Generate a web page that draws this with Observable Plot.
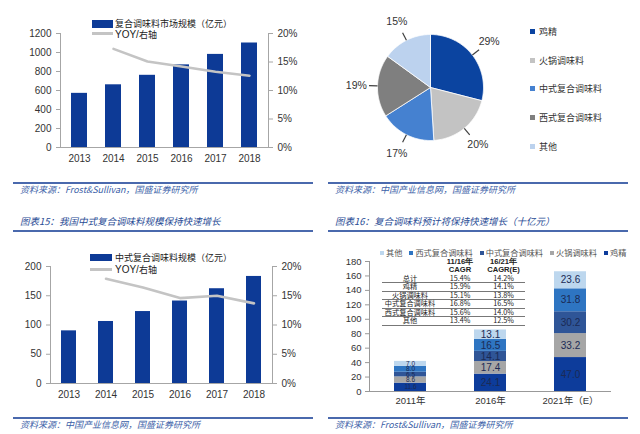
<!DOCTYPE html>
<html><head><meta charset="utf-8">
<script src="https://cdn.jsdelivr.net/npm/d3@7"></script>
<script src="https://cdn.jsdelivr.net/npm/@observablehq/plot@0.6"></script>
<style>
body{margin:0;width:640px;height:434px;position:relative;background:#fff;overflow:hidden;font-family:"Noto Sans CJK SC",sans-serif;}
.abs{position:absolute;}
.rule{position:absolute;height:2px;background:#4a69ad;}
.src{position:absolute;font-size:9px;line-height:10px;color:#3c5fa8;font-style:italic;white-space:nowrap;}
.ttl{position:absolute;font-size:9.5px;line-height:11px;color:#2a4c95;font-style:italic;white-space:nowrap;}
.lg{position:absolute;font-size:9px;line-height:9px;color:#222;white-space:nowrap;}
.sw{position:absolute;}
.plg{position:absolute;font-size:9px;line-height:10px;color:#333;white-space:nowrap;}
.plg i{display:inline-block;width:5px;height:5px;margin-right:4px;vertical-align:1px;}
.slg{position:absolute;left:380px;top:247px;display:flex;gap:7px;font-size:8.2px;line-height:10px;color:#555;white-space:nowrap;}
.slg i{display:inline-block;width:4px;height:4px;margin-right:2px;vertical-align:1px;}
.tbl{position:absolute;left:382px;top:258px;width:143px;font-family:"Noto Sans CJK SC",sans-serif;font-size:7.2px;color:#222;}
.tr{display:flex;height:8.3px;line-height:8px;}
.tr.d{border-bottom:0.8px solid #777;height:7.5px;line-height:7.5px;}
.tr span{display:block;text-align:center;}
.tr span:nth-child(1){width:56px;}
.tr span:nth-child(2){width:44px;}
.tr span:nth-child(3){width:43px;}
.tr.h{font-weight:bold;font-family:"Liberation Sans",sans-serif;font-size:7.6px;}
</style></head>
<body>
<script>
// ---------- data ----------
const years = ["2013","2014","2015","2016","2017","2018"];
const marketSize = [570, 660, 760, 870, 980, 1100];
const marketYoy = [null, 17.3, 15.1, 14.2, 13.3, 12.6];
const chineseSize = [90, 106, 123, 141, 162, 183];
const chineseYoy = [null, 17.9, 16.4, 14.6, 15.0, 13.7];

const pieCategories = ["鸡精","火锅调味料","中式复合调味料","西式复合调味料","其他"];
const pieShares = [29, 20, 17, 19, 15];
const pieColors = ["#0b44a0","#c3c3c3","#4581d0","#7f7f7f","#bcd2ee"];

const stackYears = ["2011年","2016年","2021年（E）"];
const stackCategories = ["鸡精","火锅调味料","中式复合调味料","西式复合调味料","其他"];
const stackColors = ["#0d3c9b","#a6a6a6","#2f5597","#2e75c2","#bdd7ee"];
const jijing = [11.6, 24.1, 47.0];
const huoguo = [8.6, 17.4, 33.2];
const zhongshi = [6.5, 14.1, 30.2];
const xishi = [8.0, 16.5, 31.8];
const qita = [7.0, 13.1, 23.6];
const legendOrder = ["其他","西式复合调味料","中式复合调味料","火锅调味料","鸡精"];

const cagrRows = ["总计","鸡精","火锅调味料","中式复合调味料","西式复合调味料","其他"];
const cagr1116 = ["15.4%","15.9%","15.1%","16.8%","15.6%","13.4%"];
const cagr1621 = ["14.2%","14.1%","13.8%","16.5%","14.0%","12.5%"];

const texts = {
  src1: "资料来源：Frost&Sullivan，国盛证券研究所",
  src2: "资料来源：中国产业信息网，国盛证券研究所",
  title15: "图表15：我国中式复合调味料规模保持快速增长",
  title16: "图表16：复合调味料预计将保持快速增长（十亿元）",
  leg1: "复合调味料市场规模（亿元）",
  leg3: "中式复合调味料规模（亿元）"
};

// ---------- helpers ----------
function place(node, left, top) {
  const d = document.createElement("div");
  d.className = "abs"; d.style.left = left + "px"; d.style.top = top + "px";
  d.appendChild(node); document.body.appendChild(d); return d;
}
function html(s) { document.body.insertAdjacentHTML("beforeend", s); }

const axisFont = {fontFamily:"'Liberation Sans', sans-serif", fontSize:"10px", color:"#333", background:"transparent", overflow:"visible"};

function dualChart(sizes, yoy, ymax, yStep, pctMax, opts) {
  const data = years.map((y,i)=>({year:y, size:sizes[i], yoy:yoy[i]}));
  const k = ymax / pctMax;
  const ticks = d3.range(0, ymax + 1, yStep);
  const pticks = d3.range(0, pctMax + 1, 5).map(p => p * k);
  return Plot.plot({
    ...opts,
    style: axisFont,
    x: {type:"band", domain: years, paddingInner: opts.pad, paddingOuter: opts.pad/2, axis:null},
    y: {domain:[0, ymax], axis:null},
    marks: [
      Plot.barY(data, {x:"year", y:"size", fill:"#0d3a96"}),
      Plot.line(data.filter(d=>d.yoy!=null), {x:"year", y: d=>d.yoy*k, stroke:"#c4c4c4", strokeWidth:2.6}),
      Plot.frame({anchor:"left", stroke:"#a6a6a6"}),
      Plot.frame({anchor:"right", stroke:"#a6a6a6"}),
      Plot.frame({anchor:"bottom", stroke:"#a6a6a6"}),
      Plot.axisY(ticks, {anchor:"left", tickSize:4, tickPadding:5, stroke:"#a6a6a6", fill:"#333", tickFormat:d=>String(d), label:null}),
      Plot.axisY(pticks, {anchor:"right", tickSize:4, tickPadding:5, stroke:"#a6a6a6", fill:"#333", tickFormat: d=>`${Math.round(d/k)}%`, label:null}),
      Plot.axisX({tickSize:0, tickPadding:7, fill:"#333", label:null})
    ]
  });
}

// ---------- chart 1 ----------
place(dualChart(marketSize, marketYoy, 1200, 200, 20,
  {width:320, height:167, marginLeft:60, marginRight:52, marginTop:33, marginBottom:20, pad:0.54}), 0, 0);
html(`<div class="sw" style="left:92px;top:20px;width:21px;height:8px;background:#0d3a96"></div>
<div class="lg" style="left:115px;top:19px">${texts.leg1}</div>
<div class="sw" style="left:92px;top:32px;width:21px;height:2.5px;background:#c4c4c4"></div>
<div class="lg" style="left:115px;top:29.5px;line-height:9px;font-family:'Liberation Sans','Noto Sans CJK SC';font-size:10px">YOY/<span style="font-family:'Noto Sans CJK SC';font-size:9px">右轴</span></div>
<div class="rule" style="left:13px;top:182px;width:300px"></div>
<div class="src" style="left:20px;top:185px">${texts.src1}</div>`);

// ---------- chart 2 (pie) ----------
{
  const total = d3.sum(pieShares);
  let acc = 0;
  const slices = pieCategories.map((c,i)=>{
    const a0 = acc/total*2*Math.PI; acc += pieShares[i]; const a1 = acc/total*2*Math.PI;
    return {cat:c, share:pieShares[i], a0, a1, mid:(a0+a1)/2};
  });
  const pts = [];
  for (const s of slices) {
    pts.push({cat:s.cat, x:0, y:0});
    const n = Math.max(2, Math.ceil((s.a1-s.a0)/0.02));
    for (let j=0;j<=n;j++){ const a = s.a0 + (s.a1-s.a0)*j/n; pts.push({cat:s.cat, x:Math.sin(a), y:Math.cos(a)}); }
    pts.push({cat:s.cat, x:0, y:0});
  }
  const R = 80/53;
  const pie = Plot.plot({
    width:160, height:160, margin:0,
    style:{fontFamily:"'Liberation Sans', sans-serif", fontSize:"10px", color:"#333", background:"transparent", overflow:"visible"},
    x:{domain:[-R,R], axis:null}, y:{domain:[-R,R], axis:null},
    color:{domain:pieCategories, range:pieColors},
    marks:[
      Plot.line(pts, {x:"x", y:"y", z:"cat", fill:"cat", stroke:"white", strokeWidth:0.8}),
      Plot.link(slices, {x1:d=>Math.sin(d.mid)*1.0, y1:d=>Math.cos(d.mid)*1.0, x2:d=>Math.sin(d.mid)*1.16, y2:d=>Math.cos(d.mid)*1.16, stroke:"#404040", strokeWidth:1.2}),
      Plot.text(slices, {x:d=>Math.sin(d.mid)*1.4, y:d=>Math.cos(d.mid)*1.4, text:d=>d.share+"%", fill:"#333", fontSize:10.5})
    ]
  });
  place(pie, 350, 7);
  pieCategories.forEach((c,i)=>{
    html(`<div class="plg" style="left:530px;top:${27 + i*28.7}px"><i style="background:${pieColors[i]}"></i>${c}</div>`);
  });
  html(`<div class="rule" style="left:328px;top:182px;width:300px"></div>
<div class="src" style="left:335px;top:185px">${texts.src2}</div>`);
}

// ---------- chart 3 ----------
html(`<div class="ttl" style="left:20px;top:216px">${texts.title15}</div>
<div class="rule" style="left:13px;top:230px;width:300px"></div>`);
place(dualChart(chineseSize, chineseYoy, 200, 50, 20,
  {width:320, height:163, marginLeft:50, marginRight:48, marginTop:26, marginBottom:20, pad:0.6}), 0, 240);
html(`<div class="sw" style="left:90px;top:254px;width:22px;height:7px;background:#0d3a96"></div>
<div class="lg" style="left:115px;top:253px">${texts.leg3}</div>
<div class="sw" style="left:90px;top:268px;width:22px;height:2.5px;background:#c4c4c4"></div>
<div class="lg" style="left:115px;top:264.5px;line-height:9px;font-family:'Liberation Sans','Noto Sans CJK SC';font-size:10px">YOY/<span style="font-family:'Noto Sans CJK SC';font-size:9px">右轴</span></div>
<div class="rule" style="left:13px;top:417px;width:300px"></div>
<div class="src" style="left:20px;top:420px">${texts.src2}</div>`);

// ---------- chart 4 (stacked) ----------
html(`<div class="ttl" style="left:335px;top:216px">${texts.title16}</div>
<div class="rule" style="left:328px;top:230px;width:300px"></div>`);
{
  const series = [jijing, huoguo, zhongshi, xishi, qita];
  const rows = [];
  stackYears.forEach((y,i)=>stackCategories.forEach((c,j)=>rows.push({year:y, cat:c, value:series[j][i]})));
  const st = Plot.plot({
    width:320, height:154, marginLeft:49, marginRight:30, marginTop:6, marginBottom:18,
    style:{fontFamily:"'Liberation Sans', sans-serif", fontSize:"9.5px", color:"#333", background:"transparent", overflow:"visible"},
    x:{type:"band", domain:stackYears, paddingInner:0.6, paddingOuter:0.3, axis:null},
    y:{domain:[0,180], axis:null},
    color:{domain:stackCategories, range:stackColors},
    marks:[
      Plot.barY(rows, {x:"year", y:"value", z:"cat", fill:"cat"}),
      Plot.text(rows, Plot.stackY({x:"year", y:"value", z:"cat", text:d=>d.value.toFixed(1), fill:"#1b2a55", fontSize:d=>d.value < 12 ? 6.5 : 10})),
      Plot.frame({anchor:"left", stroke:"#999"}),
      Plot.frame({anchor:"bottom", stroke:"#999"}),
      Plot.axisY(d3.range(0,181,20), {anchor:"left", tickSize:4, tickPadding:4, stroke:"#999", fill:"#333", label:null}),
      Plot.axisX({tickSize:0, tickPadding:6, fill:"#333", label:null, fontFamily:"'Liberation Sans','Noto Sans CJK SC',sans-serif"})
    ]
  });
  place(st, 320, 255);
  html(`<div class="slg">${legendOrder.map(c=>`<span><i style="background:${stackColors[stackCategories.indexOf(c)]}"></i>${c}</span>`).join("")}</div>`);
  let t = `<div class="tbl">
<div class="tr h"><span></span><span>11/16年</span><span>16/21年</span></div>
<div class="tr h"><span></span><span>CAGR</span><span>CAGR(E)</span></div>`;
  cagrRows.forEach((r,i)=>{ t += `<div class="tr d"><span>${r}</span><span>${cagr1116[i]}</span><span>${cagr1621[i]}</span></div>`; });
  t += `</div>`;
  html(t);
  html(`<div class="rule" style="left:328px;top:417px;width:300px"></div>
<div class="src" style="left:335px;top:420px">${texts.src1}</div>`);
}
</script>
</body></html>
